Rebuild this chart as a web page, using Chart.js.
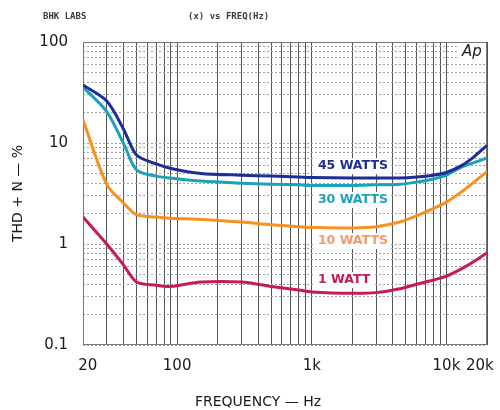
<!DOCTYPE html>
<html>
<head>
<meta charset="utf-8">
<script src="https://cdn.jsdelivr.net/npm/chart.js@4/dist/chart.umd.min.js"></script>
<style>
  html, body { margin: 0; padding: 0; background: #fff; }
  #wrap { width: 500px; height: 410px; }
</style>
</head>
<body>
<div id="wrap"><canvas id="chart" width="500" height="410"></canvas></div>
<script>
// frequency points (Hz) the curves were read at
const FREQ = [20, 30, 40, 50, 70, 90, 150, 300, 500, 800, 1000, 2000, 3000, 4500, 6000, 8000, 10000, 13000, 16000, 20000];

// THD+N (%) per output level
const W45 = [37.5, 26, 13.7, 7.6, 6.2, 5.6, 5.0, 4.8, 4.7, 4.6, 4.55, 4.5, 4.5, 4.5, 4.6, 4.8, 5.1, 6.0, 7.3, 9.5];
const W30 = [35.8, 20.5, 9.9, 5.4, 4.7, 4.5, 4.2, 4.0, 3.9, 3.85, 3.8, 3.8, 3.85, 3.9, 4.1, 4.4, 4.8, 5.8, 6.4, 7.1];
const W10 = [17, 3.9, 2.55, 1.95, 1.85, 1.8, 1.75, 1.65, 1.55, 1.48, 1.46, 1.44, 1.48, 1.65, 1.9, 2.25, 2.6, 3.3, 4.1, 5.2];
const W1  = [1.85, 1.0, 0.62, 0.42, 0.39, 0.38, 0.42, 0.42, 0.38, 0.35, 0.335, 0.325, 0.33, 0.36, 0.4, 0.44, 0.48, 0.57, 0.67, 0.82];

const SERIES_NAMES  = ['45 WATTS', '30 WATTS', '10 WATTS', '1 WATT'];
const SERIES_COLORS = ['#1d2f96', '#1aa2b6', '#f7901e', '#c8185e'];
const LABEL_COLORS  = ['#1d2f96', '#1aa2b6', '#f29a6c', '#c01b57'];
// where each curve name sits, in data units (Hz, %)
const LABEL_FREQ = [1110, 1110, 1110, 1110];
const LABEL_THD  = [5.9, 2.73, 1.07, 0.44];

// end labels padded so they sit inside the frame like the original
const X_TICK_LABELS = { '20': '  20', '100': '100', '1000': '1k', '10000': '10k', '20000': '20k   ' };
const Y_TICK_LABELS = { '0.1': '0.1', '1': '1', '10': '10', '100': '100' };

function logGrid(lo, hi) {
  const out = [];
  for (let e = -2; e <= 5; e++) {
    for (let m = 1; m <= 9; m++) {
      const v = +(m * Math.pow(10, e)).toPrecision(3);
      if (v >= lo && v <= hi) out.push(v);
    }
  }
  return out;
}
const X_GRID = logGrid(20, 20000);
const Y_GRID = logGrid(0.1, 100);

const FONT = "'DejaVu Sans', sans-serif";

const decor = {
  id: 'decor',
  beforeDatasetsDraw(chart) {
    const { ctx, chartArea: a } = chart;
    ctx.save();
    // frame
    ctx.strokeStyle = '#777';
    ctx.lineWidth = 1;
    ctx.strokeRect(a.left + 0.5, a.top + 0.5, a.right - a.left - 1, a.bottom - a.top - 1);
    // "Ap" box
    ctx.fillStyle = '#fff';
    ctx.fillRect(a.right - 30, a.top + 1, 29, 18);
    ctx.fillStyle = '#222';
    ctx.font = `italic 15px ${FONT}`;
    ctx.textAlign = 'center';
    ctx.textBaseline = 'middle';
    ctx.fillText('Ap', a.right - 15, a.top + 10);
    // header
    ctx.font = `bold 9px 'DejaVu Sans Mono', monospace`;
    ctx.fillStyle = '#3a3a3a';
    ctx.textAlign = 'left';
    ctx.fillText('BHK LABS', 43, 17);
    ctx.fillText('(x) vs FREQ(Hz)', 188, 17);
    // x axis title
    ctx.font = `14px ${FONT}`;
    ctx.fillStyle = '#1a1a1a';
    ctx.textAlign = 'center';
    ctx.fillText('FREQUENCY — Hz', 258, 402);
    ctx.restore();
  },
  afterDatasetsDraw(chart) {
    const { ctx, scales } = chart;
    ctx.save();
    ctx.font = `bold 12.5px ${FONT}`;
    ctx.textAlign = 'left';
    ctx.textBaseline = 'middle';
    SERIES_NAMES.forEach((name, i) => {
      const x = scales.x.getPixelForValue(LABEL_FREQ[i]);
      const y = scales.y.getPixelForValue(LABEL_THD[i]);
      const w = ctx.measureText(name).width;
      ctx.fillStyle = '#fff';
      ctx.fillRect(x - 3, y - 8, w + 6, 16);
      ctx.fillStyle = LABEL_COLORS[i];
      ctx.fillText(name, x, y);
    });
    ctx.restore();
  }
};

const seriesData = [W45, W30, W10, W1];

new Chart(document.getElementById('chart'), {
  type: 'line',
  data: {
    datasets: seriesData.map((vals, i) => ({
      label: SERIES_NAMES[i],
      data: FREQ.map((f, k) => ({ x: f, y: vals[k] })),
      borderColor: SERIES_COLORS[i],
      borderWidth: 3,
      pointRadius: 0,
      tension: 0.3,
      fill: false,
    }))
  },
  options: {
    responsive: false,
    animation: false,
    layout: { padding: { top: 42, right: 0, left: 0, bottom: 0 } },
    plugins: { legend: { display: false }, tooltip: { enabled: false } },
    scales: {
      x: {
        type: 'logarithmic',
        min: 20, max: 20000,
        afterBuildTicks: s => { s.ticks = X_GRID.map(v => ({ value: v })); },
        afterFit: s => { s.height = 65; s.paddingLeft = 0; s.paddingRight = 13; },
        grid: { color: '#555', lineWidth: 1, drawTicks: false },
        border: { display: false },
        ticks: {
          autoSkip: false, maxRotation: 0, padding: 12,
          color: '#1a1a1a', font: { family: FONT, size: 15 },
          callback: v => X_TICK_LABELS[String(v)] || ''
        }
      },
      y: {
        type: 'logarithmic',
        min: 0.1, max: 100,
        afterBuildTicks: s => { s.ticks = Y_GRID.map(v => ({ value: v })); },
        afterFit: s => { s.width = 83; },
        grid: { color: '#a0a0a0', lineWidth: 1, drawTicks: false },
        border: { display: false, dash: [2, 2] },
        ticks: {
          autoSkip: false, padding: 15,
          color: '#1a1a1a', font: { family: FONT, size: 15 },
          callback: v => Y_TICK_LABELS[String(v)] || ''
        },
        title: {
          display: true, text: 'THD + N — %', color: '#1a1a1a',
          font: { family: FONT, size: 14 }, padding: { top: 10, bottom: 0 }
        }
      }
    }
  },
  plugins: [decor]
});
</script>
</body>
</html>
